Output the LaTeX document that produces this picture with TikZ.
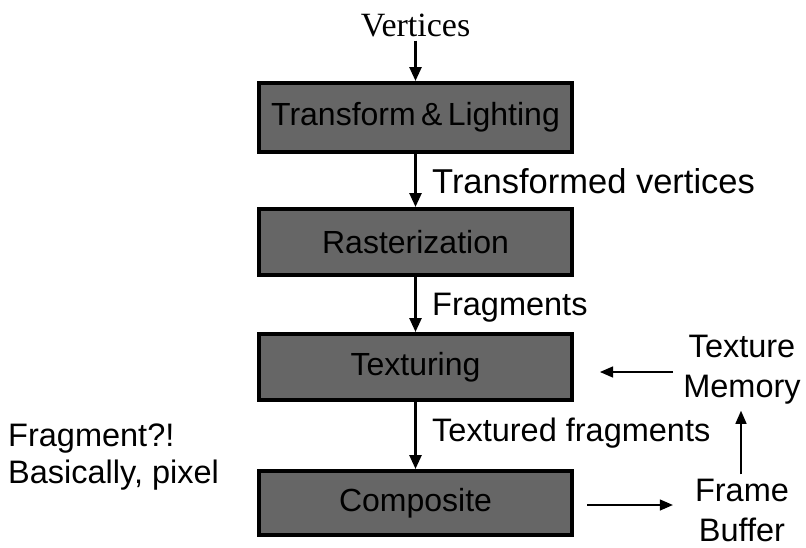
\documentclass[tikz,border=0pt]{standalone}
\usepackage{fontspec}
\setmainfont{Liberation Sans}
\newfontfamily\timesfont{Liberation Serif}
\usetikzlibrary{arrows.meta}
\definecolor{stagegray}{HTML}{666666}
\tikzset{
  stagebox/.style={draw=black, line width=4pt, fill=stagegray, minimum width=313pt,
    inner sep=0pt, font=\fontsize{32}{36}\selectfont},
  flowarrow/.style={line width=2.6pt, -{Triangle[length=14pt,width=12pt]}},
  sidearrow/.style={line width=1.3pt, -{Triangle[length=13pt,width=11pt]}},
  lbl/.style={inner sep=0pt, font=\fontsize{32.5}{40}\selectfont},
}
\begin{document}
\begin{tikzpicture}[x=1pt, y=-1pt]
  \useasboundingbox (0,0) rectangle (806,547);

  % pipeline stages
  \node[inner sep=0pt, font=\timesfont\fontsize{34}{38}\selectfont] (verts) at (415.5,25) {Vertices};
  \node[stagebox, minimum height=69pt] (tl)   at (415.5,117.5) {Transform\,\&\,Lighting};
  \node[stagebox, minimum height=66pt] (rast) at (415.5,242)   {Rasterization};
  \node[stagebox, minimum height=66pt] (tex)  at (415.5,367)   {Texturing};
  \node[stagebox, minimum height=64pt] (comp) at (415.5,503)   {Composite};

  % data passed between stages
  \node[lbl, anchor=west, font=\fontsize{34.5}{40}\selectfont] (l1) at (432,181) {Transformed vertices};
  \node[lbl, anchor=west] (l2) at (432,308) {Fragments};
  \node[lbl, anchor=west] (l3) at (432,433) {Textured fragments};

  % side notes
  \node[lbl, anchor=west, align=left, font=\fontsize{32.5}{37}\selectfont] (note) at (8,457) {Fragment?!\\Basically, pixel};
  \node[lbl, align=center] (tm) at (742,370) {Texture\\Memory};
  \node[lbl, align=center] (fb) at (742,510) {Frame\\Buffer};

  % main flow
  \draw[flowarrow, shorten <=4pt] (verts.south) -- (tl.north);
  \draw[flowarrow] (tl.south) -- (rast.north);
  \draw[flowarrow] (rast.south) -- (tex.north);
  \draw[flowarrow] (tex.south) -- (comp.north);

  % memory traffic
  \draw[sidearrow, shorten <=10pt, shorten >=26pt] ([yshift=-2pt]tm.west) -- ([yshift=-2pt]tm.west -| tex.east);
  \draw[sidearrow, shorten <=13pt, shorten >=22pt] ([yshift=-2pt]comp.east) -- ([yshift=-2pt]comp.east -| fb.west);
  \draw[sidearrow, shorten <=4pt, shorten >=6pt] (fb.north -| 741,0) -- (tm.south -| 741,0);
\end{tikzpicture}
\end{document}
